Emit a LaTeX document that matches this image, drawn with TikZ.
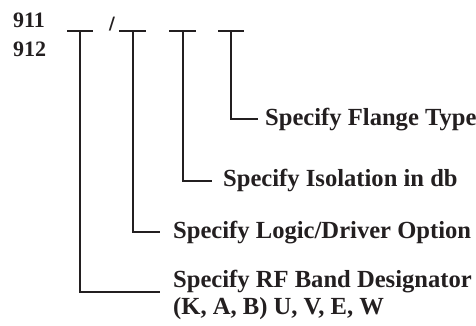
\documentclass[tikz,border=0pt]{standalone}
\usepackage{fontspec}
\setmainfont{Liberation Serif}
\newfontfamily\slashfont{DejaVu Serif}
\definecolor{ink}{HTML}{231F20}
\begin{document}
\begin{tikzpicture}[x=1pt,y=-1pt,
  ln/.style={draw=ink,line width=2.2pt},
  lbl/.style={font=\bfseries\fontsize{24.6}{27}\selectfont,text=ink,anchor=base west,inner sep=0pt},
  num/.style={font=\bfseries\fontsize{22}{24}\selectfont,text=ink,anchor=base west,inner sep=0pt}]
\useasboundingbox (0,0) rectangle (476,325);
% part number
\node[num] (n911) at (13,27) {911};
\node[num] (n912) at (13,56) {912};
\node[text=ink,inner sep=0pt,anchor=base,font=\slashfont\bfseries\fontsize{17}{20}\selectfont] (sl) at (112,29.5) {/};
% bar coordinates
\coordinate (b1l) at (67,31);  \coordinate (b1r) at (93,31);  \coordinate (b1) at (80,31);
\coordinate (b2l) at (119,31); \coordinate (b2r) at (146,31); \coordinate (b2) at (133,31);
\coordinate (b3l) at (169,31); \coordinate (b3r) at (196,31); \coordinate (b3) at (183,31);
\coordinate (b4l) at (218,31); \coordinate (b4r) at (244,31); \coordinate (b4) at (231,31);
\coordinate (c1) at (80,292);  \coordinate (e1) at (160,292);
\coordinate (c2) at (133,232); \coordinate (e2) at (160,232);
\coordinate (c3) at (183,181); \coordinate (e3) at (212,181);
\coordinate (c4) at (231,119); \coordinate (e4) at (258,119);
% labels
\node[lbl] (fl)  at (265,125)   {Specify Flange Type};
\node[lbl] (is)  at (223,186.5) {Specify Isolation in db};
\node[lbl] (lo)  at (173,238)   {Specify Logic/Driver Option};
\node[lbl] (rf1) at (173,287)   {Specify RF Band Designator};
\node[lbl] (rf2) at (173,314)   {(K, A, B) U, V, E, W};
% bars and leaders
\draw[ln] (b1l) -- (b1r);
\draw[ln] (b2l) -- (b2r);
\draw[ln] (b3l) -- (b3r);
\draw[ln] (b4l) -- (b4r);
\draw[ln] (b1) -- (c1) -- (e1);
\draw[ln] (b2) -- (c2) -- (e2);
\draw[ln] (b3) -- (c3) -- (e3);
\draw[ln] (b4) -- (c4) -- (e4);
\end{tikzpicture}
\end{document}
